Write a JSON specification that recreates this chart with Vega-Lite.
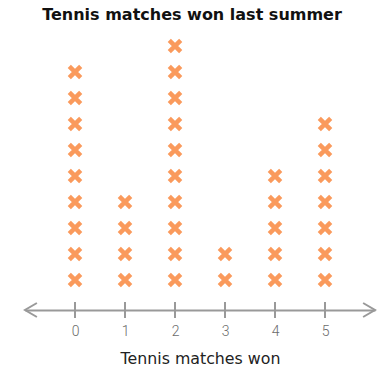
{
  "$schema": "https://vega.github.io/schema/vega-lite/v6.json",
  "width": 350,
  "height": 279,
  "autosize": {"type": "none"},
  "padding": {"left": 25, "right": 12, "top": 31, "bottom": 62},
  "background": "white",
  "config": {"view": {"stroke": null}},
  "title": {
    "text": "Tennis matches won last summer",
    "font": "DejaVu Sans",
    "fontSize": 16,
    "fontWeight": "bold",
    "color": "#111111",
    "anchor": "middle",
    "dx": -8,
    "offset": 8
  },
  "datasets": {
    "xs": [
      {"won": 0, "n": 1}, {"won": 0, "n": 2}, {"won": 0, "n": 3}, {"won": 0, "n": 4}, {"won": 0, "n": 5}, {"won": 0, "n": 6}, {"won": 0, "n": 7}, {"won": 0, "n": 8}, {"won": 0, "n": 9},
      {"won": 1, "n": 1}, {"won": 1, "n": 2}, {"won": 1, "n": 3}, {"won": 1, "n": 4},
      {"won": 2, "n": 1}, {"won": 2, "n": 2}, {"won": 2, "n": 3}, {"won": 2, "n": 4}, {"won": 2, "n": 5}, {"won": 2, "n": 6}, {"won": 2, "n": 7}, {"won": 2, "n": 8}, {"won": 2, "n": 9}, {"won": 2, "n": 10},
      {"won": 3, "n": 1}, {"won": 3, "n": 2},
      {"won": 4, "n": 1}, {"won": 4, "n": 2}, {"won": 4, "n": 3}, {"won": 4, "n": 4}, {"won": 4, "n": 5},
      {"won": 5, "n": 1}, {"won": 5, "n": 2}, {"won": 5, "n": 3}, {"won": 5, "n": 4}, {"won": 5, "n": 5}, {"won": 5, "n": 6}, {"won": 5, "n": 7}
    ],
    "ticks": [{"won": 0}, {"won": 1}, {"won": 2}, {"won": 3}, {"won": 4}, {"won": 5}],
    "ends": [{"pos": -1, "side": "left"}, {"pos": 6, "side": "right"}]
  },
  "layer": [
    {
      "data": {"name": "ticks"},
      "mark": {"type": "rule", "color": "#999999", "strokeWidth": 2, "clip": false},
      "encoding": {
        "x": {
          "field": "won",
          "type": "quantitative",
          "scale": {"domain": [-1, 6], "nice": false, "zero": false},
          "axis": {
            "values": [0, 1, 2, 3, 4, 5],
            "title": "Tennis matches won",
            "domain": true,
            "domainColor": "#999999",
            "domainWidth": 2,
            "ticks": false,
            "grid": false,
            "labelFont": "Roboto",
            "labelFontSize": 14,
            "labelFontWeight": 300,
            "labelColor": "#6b6b6b",
            "labelPadding": 14,
            "titleFont": "DejaVu Sans",
            "titleFontSize": 15.8,
            "titleFontWeight": "normal",
            "titleColor": "#222222",
            "titlePadding": 13
          }
        },
        "y": {"datum": 0.154, "type": "quantitative", "scale": {"domain": [-0.154, 10.577], "nice": false, "zero": false}, "axis": null},
        "y2": {"datum": -0.46}
      }
    },
    {
      "data": {"name": "ends"},
      "transform": [{"filter": "datum.side === 'left'"}],
      "mark": {"type": "point", "shape": "M1.7,-1L0,0L1.7,1", "filled": false, "color": "#999999", "strokeWidth": 2, "size": 196, "opacity": 1, "clip": false},
      "encoding": {
        "x": {"field": "pos", "type": "quantitative"},
        "y": {"datum": -0.154, "type": "quantitative"}
      }
    },
    {
      "data": {"name": "ends"},
      "transform": [{"filter": "datum.side === 'right'"}],
      "mark": {"type": "point", "shape": "M-1.7,-1L0,0L-1.7,1", "filled": false, "color": "#999999", "strokeWidth": 2, "size": 196, "opacity": 1, "clip": false},
      "encoding": {
        "x": {"field": "pos", "type": "quantitative"},
        "y": {"datum": -0.154, "type": "quantitative"}
      }
    },
    {
      "data": {"name": "xs"},
      "mark": {"type": "point", "shape": "M-1,-1L1,1M1,-1L-1,1", "filled": false, "color": "#fa9a5c", "strokeWidth": 4.5, "size": 130, "opacity": 1},
      "encoding": {
        "x": {"field": "won", "type": "quantitative"},
        "y": {"field": "n", "type": "quantitative"}
      }
    }
  ]
}
